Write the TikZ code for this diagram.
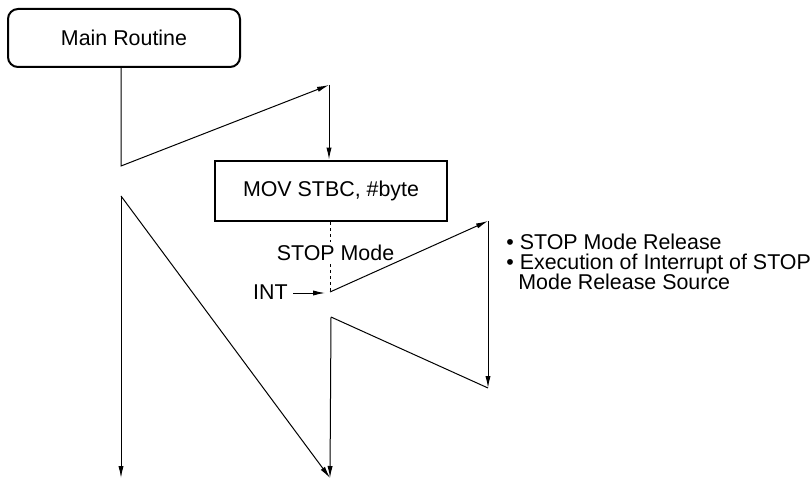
\documentclass[tikz,border=0pt]{standalone}
\usepackage{fontspec}
\setmainfont{Liberation Sans}
\usetikzlibrary{arrows.meta}
\begin{document}
\begin{tikzpicture}[x=0.5pt,y=-0.5pt,
  every node/.style={font=\fontsize{10.7pt}{10pt}\selectfont},
  conn/.style={line width=0.5pt,line join=miter},
  arr/.style={conn,-{Latex[length=6pt,width=2.6pt]}},
  dotline/.style={line width=0.5pt,dash pattern=on 1.5pt off 1.5pt},
  mainbox/.style={draw,line width=1pt,rounded corners=5pt,minimum width=116pt,minimum height=29pt,inner sep=0pt},
  movbox/.style={draw,line width=1.4pt,minimum width=116pt,minimum height=30pt,inner sep=0pt},
  lbl/.style={inner sep=0pt}]
\useasboundingbox (0,0) rectangle (812,480);
% nodes
\node[mainbox] (main) at (124,38) {Main Routine};
\node[movbox] (mov) at (331,191) {MOV STBC, \#byte};
% coordinates
\coordinate (c1) at (121,166);
\coordinate (c2) at (329,85);
\coordinate (c3) at (121,196);
\coordinate (bot1) at (121,478);
\coordinate (bot2) at (330,478);
\coordinate (int) at (330,292);
\coordinate (r1) at (488,221);
\coordinate (r2) at (488,388);
\coordinate (l2) at (331,317);
% dotted STOP mode line
\draw[dotline] (mov.south -| int) -- (int);
\node[lbl,fill=white,inner ysep=1.5pt] (stop) at (335.5,253) {STOP Mode};
\node[lbl,anchor=east] (intlbl) at (288,292) {INT};
\draw[arr] ([xshift=2.5pt,yshift=-0.5pt]intlbl.east) -- ([xshift=-2.5pt,yshift=-0.5pt]int);
% upper zigzag
\draw[arr] (main.south -| c1) -- (c1) -- (c2);
\draw[arr] (c2) -- (c2 |- mov.north);
% right zigzag
\draw[arr] (int) -- (r1);
\draw[arr] (r1) -- (r2);
\draw[conn] (r2) -- (l2);
\draw[arr] (l2) -- (bot2);
% left branches
\draw[arr] (c3) -- (bot1);
\draw[arr] (c3) -- (bot2);
% note text
\node[lbl,anchor=base west] (note1) at (506,250) {• STOP Mode Release};
\node[lbl,anchor=base west] (note2) at (506,270) {• Execution of Interrupt of STOP};
\node[lbl,anchor=base west] (note3) at (518,290) {Mode Release Source};
\end{tikzpicture}
\end{document}
